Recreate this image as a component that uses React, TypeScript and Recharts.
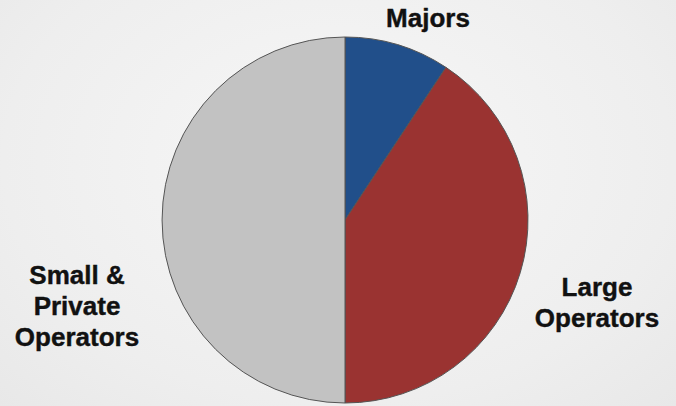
import { PieChart, Pie, Cell } from 'recharts'

const segments = ['Majors', 'Large Operators', 'Small & Private Operators']
const shares = [9.3, 40.7, 50]
const colors = ['#214f8a', '#9a3331', '#c2c2c2']
const labelLines = [['Majors'], ['Large', 'Operators'], ['Small &', 'Private', 'Operators']]

// label centre offsets from pie centre
const labelOffsets = [
  { dx: 83, dy: -202 },
  { dx: 252, dy: 82 },
  { dx: -268, dy: 86 },
]

const data = segments.map((name, i) => ({ name, value: shares[i] }))

function renderLabel(props: any) {
  const { cx, cy, index } = props
  const lines = labelLines[index]
  const off = labelOffsets[index]
  const lineH = 31
  const startY = cy + off.dy - ((lines.length - 1) * lineH) / 2
  return (
    <text
      x={cx + off.dx}
      y={startY}
      textAnchor="middle"
      dominantBaseline="central"
      fill="#111"
      stroke="#111"
      strokeWidth={0.4}
      fontSize={26}
      fontWeight="bold"
      fontFamily="'Liberation Sans', Arial, sans-serif"
    >
      {lines.map((l, i) => (
        <tspan key={i} x={cx + off.dx} y={startY + i * lineH}>
          {l}
        </tspan>
      ))}
    </text>
  )
}

export default function App() {
  return (
    <div
      style={{
        position: 'absolute',
        left: 0,
        top: 0,
        width: 676,
        height: 406,
        background: 'radial-gradient(ellipse at 50% 40%, #f7f7f7 0%, #eeeeee 70%, #e8e8e8 100%)',
      }}
    >
      <PieChart width={676} height={406} margin={{ top: 0, right: 0, bottom: 0, left: 0 }}>
        <Pie
          data={data}
          dataKey="value"
          nameKey="name"
          cx={345}
          cy={220}
          outerRadius={183}
          startAngle={90}
          endAngle={-270}
          stroke="#555"
          strokeWidth={1}
          label={renderLabel}
          labelLine={false}
          isAnimationActive={false}
        >
          {data.map((d, i) => (
            <Cell key={d.name} fill={colors[i]} />
          ))}
        </Pie>
      </PieChart>
    </div>
  )
}
